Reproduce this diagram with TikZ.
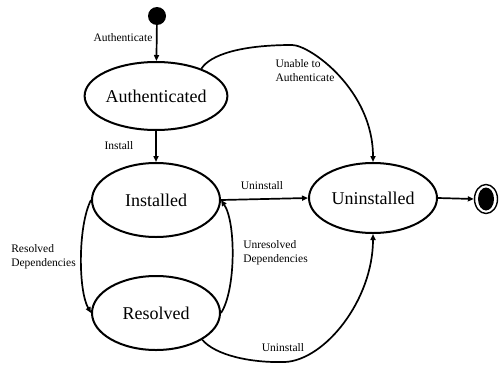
\documentclass[tikz,border=0pt]{standalone}
\usepackage{fontspec}
\setmainfont{Liberation Serif}
\usetikzlibrary{shapes.geometric,arrows.meta}
\begin{document}
\begin{tikzpicture}[x=1pt,y=-1pt,
  state/.style={draw,ellipse,line width=2pt,inner sep=0pt,minimum width=128pt,
    font=\fontsize{18}{20}\selectfont},
  trans/.style={line width=1.7pt,-{Triangle[length=6pt,width=5pt]}},
  lbl/.style={font=\fontsize{11.5}{14}\selectfont,inner sep=0pt,align=left}]
\useasboundingbox (0,0) rectangle (502,364);

% states
\node[state,minimum height=68pt] (A) at (156,96) {Authenticated};
\node[state,minimum height=74pt] (I) at (156,200) {Installed};
\node[state,minimum height=74pt] (R) at (156,313) {Resolved};
\node[state,minimum height=70pt] (U) at (373,198) {Uninstalled};

% initial and final pseudo-states
\node[circle,fill,inner sep=0pt,minimum size=18pt] (S) at (157,16) {};
\node[ellipse,draw,line width=1.4pt,inner sep=0pt,minimum width=23pt,minimum height=29pt] (E) at (486,199) {};
\node[ellipse,fill,inner sep=0pt,minimum width=16pt,minimum height=23pt] (Ei) at (E) {};

% transitions
\draw[trans] (S) -- (A);
\draw[trans] (A) -- (I);
\draw[trans] (A.31) .. controls (210,55) and (240,45) .. (292,45)
  .. controls (310,45) and (373,90) .. (U.north);
\draw[trans] (I.east) -- (U.west);
\draw[trans] (I.west) .. controls (78,225) and (78,290) .. (R.west);
\draw[trans] (R.east) .. controls (236,290) and (236,222) .. (I.east);
\draw[trans] (R.-30) .. controls (215,355) and (250,363) .. (285,362)
  .. controls (325,360) and (373,300) .. (U.south);
\draw[trans] (U.east) -- (E.west);

% transition labels
\node[lbl] (l1) at (123,38) {Authenticate};
\node[lbl] (l2) at (119,146) {Install};
\node[lbl] (l3) at (305,71) {Unable to\\Authenticate};
\node[lbl] (l4) at (262,186) {Uninstall};
\node[lbl] (l5) at (43.5,257) {Resolved\\Dependencies};
\node[lbl] (l6) at (275.5,253) {Unresolved\\Dependencies};
\node[lbl] (l7) at (283,348) {Uninstall};
\end{tikzpicture}
\end{document}
